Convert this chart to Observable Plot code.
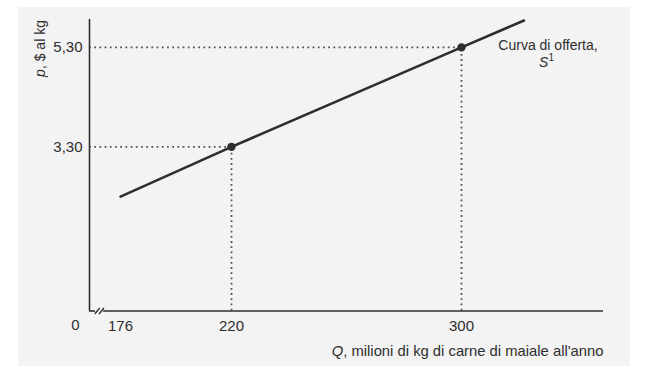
<!DOCTYPE html>
<html><head><meta charset="utf-8">
<script src="https://cdn.jsdelivr.net/npm/d3@7"></script>
<script src="https://cdn.jsdelivr.net/npm/@observablehq/plot@0.6"></script>
<style>
html,body{margin:0;padding:0;background:#fff;}
#chart svg{display:block;box-shadow: inset 18px 7px 0 #fff, inset -20px 0 0 #fff;}
#chart svg text, #chart svg g{font-family:'Liberation Sans', Arial, sans-serif !important; font-variant: normal !important; font-variant-numeric: normal !important;}
</style></head><body><div id="chart"></div>
<script>
// Supply curve (quantity in millions of kg, price in $/kg)
const supplyQ = [176, 220, 300, 322];
const supplyP = [2.30, 3.30, 5.30, 5.84];
// Highlighted points
const markedQ = [220, 300];
const markedP = [3.30, 5.30];
// Tick labels
const xTicks = [176, 220, 300];
const yTicks = [3.30, 5.30];
const originLabel = "0";
// Axis break slashes (quantity ends, price ends)
const breakQ1 = [30, 54];
const breakQ2 = [58, 82];
const breakP = [-0.06, 0.06];
// Texts
const xLabel = "Q, milioni di kg di carne di maiale all'anno";
const yLabel = "p, $ al kg";
const curveLine1 = "Curva di offerta,";
const curveLine2 = "S1";

const supply = supplyQ.map((q, i) => ({q, p: supplyP[i]}));
const marked = markedQ.map((q, i) => ({q, p: markedP[i]}));
const slashes = breakQ1.map((q1, i) => ({q1, q2: breakQ2[i], p1: breakP[0], p2: breakP[1]}));
const ink = "#2e2e2e";
const guide = "#555";
const font = "'Liberation Sans', Arial, sans-serif";
const fmt = d => d.toFixed(2).replace(".", ",");
const yTop = 5.86, xEnd = 350;
const txt = {fontSize: 14, fontFamily: font, fill: ink, textAnchor: "middle", lineAnchor: "middle"};

const chart = Plot.plot({
  width: 650, height: 366,
  marginTop: 19, marginBottom: 55.5, marginLeft: 89, marginRight: 47,
  style: {fontFamily: font, fontSize: "14px", color: ink, background: "#f3f3f3", overflow: "visible"},
  x: {type: "linear", domain: [0, 176, 220, 300, xEnd], range: [89, 120, 231, 461, 603], label: null},
  y: {domain: [0, yTop], label: null},
  marks: [
    Plot.ruleY(marked, {y: "p", x1: 0, x2: "q", stroke: guide, strokeWidth: 1.8, strokeDasharray: "1.8,3.4"}),
    Plot.ruleX(marked, {x: "q", y1: 0, y2: "p", stroke: guide, strokeWidth: 1.8, strokeDasharray: "1.8,3.4"}),
    Plot.ruleX([0], {y1: 0, y2: yTop, stroke: ink, strokeWidth: 1.6}),
    Plot.ruleY([0], {x1: 0, x2: breakQ1[0] + 4, stroke: ink, strokeWidth: 1.6}),
    Plot.ruleY([0], {x1: breakQ2[1] - 2, x2: xEnd, stroke: ink, strokeWidth: 1.6}),
    Plot.link(slashes, {x1: "q1", x2: "q2", y1: "p1", y2: "p2", stroke: ink, strokeWidth: 1.3}),
    Plot.line(supply, {x: "q", y: "p", stroke: ink, strokeWidth: 2.6}),
    Plot.dot(marked, {x: "q", y: "p", r: 4.2, fill: ink, stroke: "none"}),
    Plot.axisX(xTicks, {tickSize: 0, tickPadding: 9, tickFormat: d => String(d), label: null, fontSize: 15, fontFamily: font, fontVariant: "normal", fill: ink}),
    Plot.axisY(yTicks, {tickSize: 0, tickPadding: 7, tickFormat: fmt, label: null, fontSize: 15, fontFamily: font, fontVariant: "normal", fill: ink}),
    Plot.text([originLabel], {...txt, fontSize: 15, x: 0, y: 0, text: d => d, dx: -14, dy: 14}),
    Plot.text([yLabel], {...txt, frameAnchor: "top-left", text: d => d, rotate: -90, dx: -49, dy: 29}),
    Plot.text([xLabel], {...txt, fontSize: 14.8, frameAnchor: "bottom-right", text: d => d, textAnchor: "end", dy: 40.5}),
    Plot.text([curveLine1], {...txt, frameAnchor: "top-right", text: d => d, dx: -55.5, dy: 26.5}),
    Plot.text([curveLine2], {...txt, frameAnchor: "top-right", text: d => d, dx: -57, dy: 43.5})
  ]
});
document.getElementById("chart").appendChild(chart);

// Mixed styling: italic symbols and superscript
d3.select(chart).selectAll("text").each(function () {
  const t = d3.select(this);
  const s = this.textContent;
  if (s === xLabel) {
    t.text(null);
    t.append("tspan").attr("font-style", "italic").text("Q");
    t.append("tspan").text(xLabel.slice(1));
  } else if (s === yLabel) {
    t.text(null);
    t.append("tspan").attr("font-style", "italic").text("p");
    t.append("tspan").text(yLabel.slice(1));
  } else if (s === curveLine2) {
    t.text(null);
    t.append("tspan").attr("font-style", "italic").text("S");
    t.append("tspan").attr("font-size", 10).attr("dy", -6).text(curveLine2.slice(1));
  }
});
</script></body></html>
